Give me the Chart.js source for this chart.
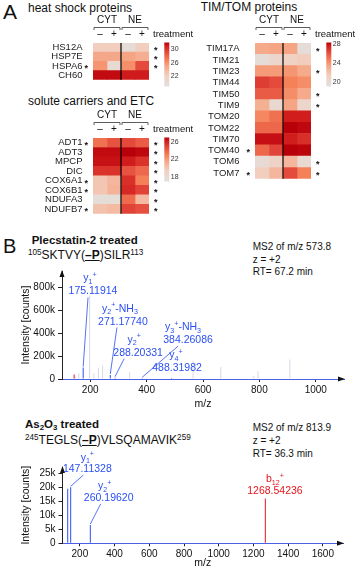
<!DOCTYPE html>
<html>
<head>
<meta charset="utf-8">
<title>Mitochondrial protein heatmaps and MS2 spectra</title>
<script src="https://cdn.jsdelivr.net/npm/chart.js@4.4.1/dist/chart.umd.min.js"></script>
<style>
  body { margin: 0; background: #fff; }
  #page { position: relative; width: 356px; height: 569px; overflow: hidden; font-family: "Liberation Sans", Arial, sans-serif; color: #111; }
  #page canvas, .txt { position: absolute; }
  .txt { white-space: nowrap; line-height: 1; }
  .txt sup, .txt sub { font-size: 0.68em; line-height: 0; }
  .txt sup { vertical-align: 0.5em; }
  .txt sub { vertical-align: -0.25em; }
  .pep b { text-decoration: underline; }
</style>
</head>
<body>
<div id="page">
  <div class="txt" style="left:3px;top:0.6px;font-size:21px">A</div>
  <div class="txt" style="left:28px;top:1.5px;font-size:12px">heat shock proteins</div>
  <div class="txt" style="left:28px;top:94.8px;font-size:12px">solute carriers and ETC</div>
  <div class="txt" style="left:200.7px;top:0.5px;font-size:12px">TIM/TOM proteins</div>

  <div class="txt" style="left:3px;top:236px;font-size:20px">B</div>
  <div class="txt" style="left:31.7px;top:235.3px;font-size:11.5px;font-weight:bold">Plecstatin-2 treated</div>
  <div class="txt pep" style="left:28px;top:249.1px;font-size:12px"><sup>105</sup>SKTVY(<b>–P</b>)SILR<sup>113</sup></div>
  <div class="txt" style="left:252.7px;top:240.9px;font-size:10px;line-height:12.7px">MS2 of m/z 573.8<br>z = +2<br>RT= 67.2 min</div>

  <div class="txt" style="left:25px;top:419.3px;font-size:11.5px;font-weight:bold">As<sub>2</sub>O<sub>3</sub> treated</div>
  <div class="txt pep" style="left:25px;top:433.8px;font-size:12px"><sup>245</sup>TEGLS(<b>–P</b>)VLSQAMAVIK<sup>259</sup></div>
  <div class="txt" style="left:252.7px;top:421px;font-size:10px;line-height:13px">MS2 of m/z 813.9<br>z = +2<br>RT= 36.3 min</div>

  <canvas id="hsp" width="200" height="96" style="left:0;top:0"></canvas>
  <canvas id="slc" width="200" height="130" style="left:0;top:100px"></canvas>
  <canvas id="tim" width="196" height="200" style="left:160px;top:0"></canvas>
  <canvas id="spec1" width="356" height="148" style="left:0;top:262px"></canvas>
  <canvas id="spec2" width="356" height="129" style="left:0;top:440px"></canvas>
</div>

<script>
// heatmap columns: CYT -, CYT +, NE -, NE +
const groups = ["CYT", "NE"];
const treatment = ["–", "+", "–", "+"];

const hspRows = ["HS12A", "HSP7E", "HSPA6", "CH60"];
const hspValues = [
  [22.3, 22.3, 19.7, 22.3],
  [24.9, 24.9, 25.1, 24.5],
  [25.8, 20.3, 26.1, 29.1],
  [31.6, 31.6, 31.0, 31.0]
];
const hspStarsLeft = [0, 0, 1, 0];
const hspStarsRight = [1, 1, 1, 0];
const hspRange = [19, 32];
const hspScaleTicks = [22, 26, 30];

const slcRows = ["ADT1", "ADT3", "MPCP", "DIC", "COX6A1", "COX6B1", "NDUFA3", "NDUFB7"];
const slcValues = [
  [23.5, 24.5, 24.8, 24.2],
  [26.7, 26.7, 27.0, 26.8],
  [26.5, 26.5, 26.2, 25.5],
  [25.5, 25.5, 24.5, 23.8],
  [20.0, 20.8, 25.6, 23.0],
  [20.0, 21.0, 25.8, 25.0],
  [17.5, 17.5, 23.7, 20.6],
  [20.2, 20.6, 25.0, 24.6]
];
const slcStarsLeft = [1, 0, 0, 0, 1, 1, 0, 1];
const slcStarsRight = [1, 1, 1, 1, 1, 1, 1, 1];
const slcRange = [17, 27];
const slcScaleTicks = [18, 22, 26];

const timRows = ["TIM17A", "TIM21", "TIM23", "TIM44", "TIM50", "TIM9", "TOM20",
  "TOM22", "TIM70", "TOM40", "TOM6", "TOM7"];
const timValues = [
  [23.2, 23.4, 23.4, 19.5],
  [19.5, 20.4, 21.0, 21.5],
  [23.7, 23.7, 23.9, 23.2],
  [26.7, 26.3, 24.6, 24.2],
  [25.8, 25.8, 24.2, 23.2],
  [22.9, 20.1, 23.4, 20.4],
  [24.4, 25.1, 27.6, 27.6],
  [25.4, 25.4, 28.4, 28.2],
  [28.0, 28.0, 27.6, 27.1],
  [25.4, 26.5, 28.4, 28.3],
  [19.8, 20.9, 22.6, 19.9],
  [21.4, 22.6, 26.3, 24.6]
];
const timStarsLeft = [0, 0, 0, 0, 0, 0, 0, 0, 0, 1, 0, 1];
const timStarsRight = [1, 0, 1, 0, 1, 1, 0, 0, 0, 0, 1, 1];
const timRange = [19, 28.4];
const timScaleTicks = [20, 24, 28];

// spectrum 1 (Plecstatin-2)
const spec1IonMz = [175.11914, 271.1774, 288.20331, 384.26086, 488.31982];
const spec1IonInt = [100000, 35000, 12000, 6000, 8000];
const spec1IonNames = ["y1+", "y2+-NH3", "y2+", "y3+-NH3", "y4+"];
const spec1OtherMz = [148, 160, 198, 213, 229, 244, 340, 565, 663, 780, 795, 908];
const spec1OtherInt = [20000, 50000, 730000, 50000, 96000, 119000, 60000, 160000, 105000, 28000, 68000, 170000];
const spec1RedMz = [143];
const spec1RedInt = [40000];
const spec1XTicks = [200, 400, 600, 800, 1000];
const spec1YTicks = [0, 200000, 400000, 600000, 800000];

// spectrum 2 (As2O3)
const spec2IonMz = [147.11328, 260.1962];
const spec2IonInt = [20000, 6500];
const spec2IonNames = ["y1+", "y2+"];
const spec2OtherMz = [130];
const spec2OtherInt = [19500];
const spec2RedMz = [1268.54236];
const spec2RedInt = [16000];
const spec2RedNames = ["b12+"];
const spec2XTicks = [200, 400, 600, 800, 1000, 1200, 1400, 1600];
const spec2YTicks = [0, 5000, 10000, 15000, 20000, 25000];

const FONT = '"Liberation Sans", Arial, sans-serif';
const BLUE = "#2b4ff2";
const RED = "#e8141c";
const PALE = "#d6d9e3";

Chart.defaults.font.family = FONT;
Chart.defaults.color = "#222";
Chart.defaults.plugins.legend.display = false;
Chart.defaults.plugins.tooltip.enabled = false;

const heatStops = [
  [0, [226, 224, 222]],
  [0.25, [242, 207, 192]],
  [0.45, [245, 169, 138]],
  [0.6, [245, 128, 88]],
  [0.78, [228, 74, 60]],
  [0.92, [208, 28, 28]],
  [1, [184, 0, 10]]
];

function heatColor(t) {
  t = Math.max(0, Math.min(1, t));
  for (let i = 1; i < heatStops.length; i++) {
    const [t1, c1] = heatStops[i];
    const [t0, c0] = heatStops[i - 1];
    if (t <= t1) {
      const f = (t - t0) / (t1 - t0);
      return "rgb(" + c0.map((c, k) => Math.round(c + (c1[k] - c) * f)).join(",") + ")";
    }
  }
}

const heatExtras = {
  id: "heatExtras",
  afterDraw(chart, args, opts) {
    const { ctx, chartArea: a, scales: { x, y } } = chart;
    const [lo, hi] = opts.range;
    const xm = x.getPixelForValue(2);
    ctx.save();
    ctx.fillStyle = "#111";
    ctx.textBaseline = "middle";
    ctx.textAlign = "center";
    ctx.font = "10px " + FONT;
    ctx.fillText(groups[0], (a.left + xm) / 2, a.top - 23);
    ctx.fillText(groups[1], (xm + a.right) / 2, a.top - 23);
    ctx.strokeStyle = "#333";
    ctx.lineWidth = 0.8;
    [[a.left, xm], [xm, a.right]].forEach(([l, r]) => {
      ctx.beginPath();
      ctx.moveTo(l + 1, a.top - 13);
      ctx.lineTo(l + 1, a.top - 15.5);
      ctx.lineTo(r - 1, a.top - 15.5);
      ctx.lineTo(r - 1, a.top - 13);
      ctx.stroke();
    });
    treatment.forEach((t, i) => ctx.fillText(t, x.getPixelForValue(i + 0.5), a.top - 8.5));
    ctx.textAlign = "left";
    ctx.font = "9.5px " + FONT;
    ctx.fillText("treatment", a.right + 4, a.top - 8.5);

    // CYT | NE divider
    ctx.strokeStyle = "#000";
    ctx.lineWidth = 1.2;
    ctx.beginPath();
    ctx.moveTo(xm, a.top);
    ctx.lineTo(xm, a.bottom);
    ctx.stroke();

    ctx.textAlign = "center";
    ctx.font = "bold 9px " + FONT;
    opts.starsLeft.forEach((s, i) => { if (s) ctx.fillText("*", a.left - 6.7, y.getPixelForValue(i) + 2.5); });
    opts.starsRight.forEach((s, i) => { if (s) ctx.fillText("*", a.right + 6.7, y.getPixelForValue(i) + 2.5); });

    // colour scale
    const cbx = a.right + 15.3, cbTop = a.top - 0.5, cbH = 44, cbW = 5;
    const g = ctx.createLinearGradient(0, cbTop + cbH, 0, cbTop);
    heatStops.forEach(([t, c]) => g.addColorStop(t, "rgb(" + c.join(",") + ")"));
    ctx.fillStyle = g;
    ctx.fillRect(cbx, cbTop, cbW, cbH);
    ctx.fillStyle = "#333";
    ctx.textAlign = "left";
    ctx.font = "7px " + FONT;
    opts.ticks.forEach(v => {
      const yy = cbTop + cbH - (v - lo) / (hi - lo) * cbH;
      ctx.fillText(String(v), cbx + cbW + 1.5, yy);
    });
    ctx.restore();
  }
};

function heatmap(id, rows, values, range, ticks, starsLeft, starsRight, axisWidth, tickPad, padding) {
  const [lo, hi] = range;
  const datasets = treatment.map((t, c) => ({
    label: groups[c >> 1] + " " + t,
    data: rows.map(() => 1),
    backgroundColor: values.map(r => heatColor((r[c] - lo) / (hi - lo))),
    borderWidth: 0,
    barPercentage: 1,
    categoryPercentage: 1
  }));
  return new Chart(document.getElementById(id), {
    type: "bar",
    data: { labels: rows, datasets },
    options: {
      indexAxis: "y",
      responsive: false,
      animation: false,
      layout: { padding },
      scales: {
        x: { stacked: true, min: 0, max: 4, display: false },
        y: {
          stacked: true,
          grid: { display: false, drawTicks: false },
          border: { display: false },
          ticks: { autoSkip: false, padding: tickPad, font: { size: 9.5 }, color: "#222" },
          afterFit: s => { s.width = axisWidth; }
        }
      },
      plugins: { heatExtras: { range, ticks, starsLeft, starsRight } }
    },
    plugins: [heatExtras]
  });
}

heatmap("hsp", hspRows, hspValues, hspRange, hspScaleTicks, hspStarsLeft, hspStarsRight,
  93, 10.5, { top: 43, right: 51, bottom: 7, left: 0 });
heatmap("slc", slcRows, slcValues, slcRange, slcScaleTicks, slcStarsLeft, slcStarsRight,
  93, 10.5, { top: 38, right: 51, bottom: 8, left: 0 });
heatmap("tim", timRows, timValues, timRange, timScaleTicks, timStarsLeft, timStarsRight,
  95, 15.5, { top: 43, right: 45, bottom: 7, left: 0 });

// ion label text: letter, subscript number, superscript +, optional suffix like -NH3
function ionSegs(name) {
  const m = name.match(/^([a-z])(\d+)\+(.*)$/);
  const segs = [[m[1], 0], [m[2], 1], ["+", -1]];
  if (m[3]) {
    const s = m[3].match(/^(.*?)(\d*)$/);
    segs.push([s[1], 0]);
    if (s[2]) segs.push([s[2], 1]);
  }
  return segs;
}

function drawRich(ctx, segs, cx, base, fs) {
  const fontOf = k => (k ? fs * 0.68 : fs) + "px " + FONT;
  let w = 0;
  segs.forEach(([t, k]) => { ctx.font = fontOf(k); w += ctx.measureText(t).width; });
  let xx = cx - w / 2;
  ctx.textAlign = "left";
  ctx.textBaseline = "alphabetic";
  segs.forEach(([t, k]) => {
    ctx.font = fontOf(k);
    ctx.fillText(t, xx, base + (k === 1 ? fs * 0.25 : k === -1 ? -fs * 0.42 : 0));
    xx += ctx.measureText(t).width;
  });
}

const specExtras = {
  id: "specExtras",
  afterDraw(chart, args, opts) {
    const { ctx, chartArea: a, scales: { x, y } } = chart;
    ctx.save();
    ctx.fillStyle = "#111";
    ctx.beginPath();
    ctx.moveTo(a.left, a.top - 1);
    ctx.lineTo(a.left - 2.5, a.top + 6);
    ctx.lineTo(a.left + 2.5, a.top + 6);
    ctx.closePath();
    ctx.fill();
    ctx.beginPath();
    ctx.moveTo(a.right + 1, a.bottom);
    ctx.lineTo(a.right - 6, a.bottom - 2.5);
    ctx.lineTo(a.right - 6, a.bottom + 2.5);
    ctx.closePath();
    ctx.fill();

    opts.labels.forEach(l => {
      const px = x.getPixelForValue(l.mz), py = y.getPixelForValue(l.int);
      const lx = x.getPixelForValue(l.at[0]), ly = y.getPixelForValue(l.at[1]);
      ctx.fillStyle = ctx.strokeStyle = l.color;
      ctx.font = opts.fs + "px " + FONT;
      ctx.textAlign = "center";
      ctx.textBaseline = "middle";
      ctx.fillText(l.mz.toFixed(5), lx, ly);
      drawRich(ctx, ionSegs(l.name), lx + l.at[3], ly - opts.gap, opts.fs);
      if (l.at[2] !== null) {
        ctx.lineWidth = 0.8;
        ctx.beginPath();
        ctx.moveTo(lx + l.at[2], ly + 6);
        ctx.lineTo(px, py - 1);
        ctx.stroke();
      }
    });
    ctx.restore();
  }
};

function peaks(mz, int) {
  return mz.map((m, i) => ({ x: m, y: int[i] }));
}

function kLabel(v) {
  return v === 0 ? "0" : v / 1000 + "k";
}

function spectrum(id, datasets, xMin, xMax, yMax, xTicks, yTicks, labels, padding, xHeight, gap) {
  return new Chart(document.getElementById(id), {
    type: "bar",
    data: {
      datasets: datasets.map(d => ({
        data: d.data,
        backgroundColor: d.color,
        barThickness: 1,
        inflateAmount: 0,
        grouped: false
      }))
    },
    options: {
      responsive: false,
      animation: false,
      layout: { padding },
      scales: {
        x: {
          type: "linear",
          min: xMin,
          max: xMax,
          offset: false,
          grid: { display: true, offset: false, drawOnChartArea: false, drawTicks: true, tickLength: 3, color: "#222" },
          border: { display: true, color: "#4a60e8", width: 1 },
          afterBuildTicks: s => { s.ticks = xTicks.map(v => ({ value: v })); },
          afterFit: s => { s.height = xHeight; },
          ticks: { maxRotation: 0, padding: 2, font: { size: 10 }, color: "#111", callback: v => String(v) },
          title: { display: true, text: "m/z", font: { size: 10.5 }, color: "#111", padding: 0 }
        },
        y: {
          min: 0,
          max: yMax,
          grid: { display: true, drawOnChartArea: false, drawTicks: true, tickLength: 4, color: "#222" },
          border: { display: true, color: "#222", width: 1 },
          afterBuildTicks: s => { s.ticks = yTicks.map(v => ({ value: v })); },
          afterFit: s => { s.width = padding.axis; },
          ticks: { padding: 3, font: { size: 10 }, color: "#111", callback: v => kLabel(v) },
          title: { display: true, text: "Intensity [counts]", font: { size: 10.5 }, color: "#111", padding: { top: 20, bottom: 0 } }
        }
      },
      plugins: { specExtras: { labels, fs: 10.5, gap } }
    },
    plugins: [specExtras]
  });
}

// label placement: [centre m/z, centre intensity, connector x offset, ion x offset]
const spec1LabelAt = [
  [210, 766000, -5, -3],
  [316, 502000, -6, -3],
  [370, 230000, -14, -4],
  [547, 340000, -10, -5],
  [508, 94000, null, -1]
];
const spec2LabelAt = [
  [243, 26500, -4, 0],
  [366, 16200, -8, -4]
];
const spec2RedLabelAt = [
  [1324, 18700, null, 0]
];

spectrum("spec1", [
  { data: peaks(spec1OtherMz, spec1OtherInt), color: PALE },
  { data: peaks(spec1RedMz, spec1RedInt), color: RED },
  { data: peaks(spec1IonMz, spec1IonInt), color: BLUE }
], 100, 1100, 945000, spec1XTicks, spec1YTicks,
  spec1IonMz.map((m, i) => ({ mz: m, int: spec1IonInt[i], name: spec1IonNames[i], at: spec1LabelAt[i], color: BLUE })),
  { top: 6, right: 12, bottom: 0, left: 0, axis: 62 }, 31, 10);

spectrum("spec2", [
  { data: peaks(spec2OtherMz, spec2OtherInt), color: BLUE },
  { data: peaks(spec2IonMz, spec2IonInt), color: BLUE },
  { data: peaks(spec2RedMz, spec2RedInt), color: RED }
], 100, 1716, 27250, spec2XTicks, spec2YTicks,
  spec2IonMz.map((m, i) => ({ mz: m, int: spec2IonInt[i], name: spec2IonNames[i], at: spec2LabelAt[i], color: BLUE }))
    .concat(spec2RedMz.map((m, i) => ({ mz: m, int: spec2RedInt[i], name: spec2RedNames[i], at: spec2RedLabelAt[i], color: RED }))),
  { top: 27, right: 13, bottom: 0, left: 0, axis: 62.5 }, 25.7, 8.5);
</script>
</body>
</html>
